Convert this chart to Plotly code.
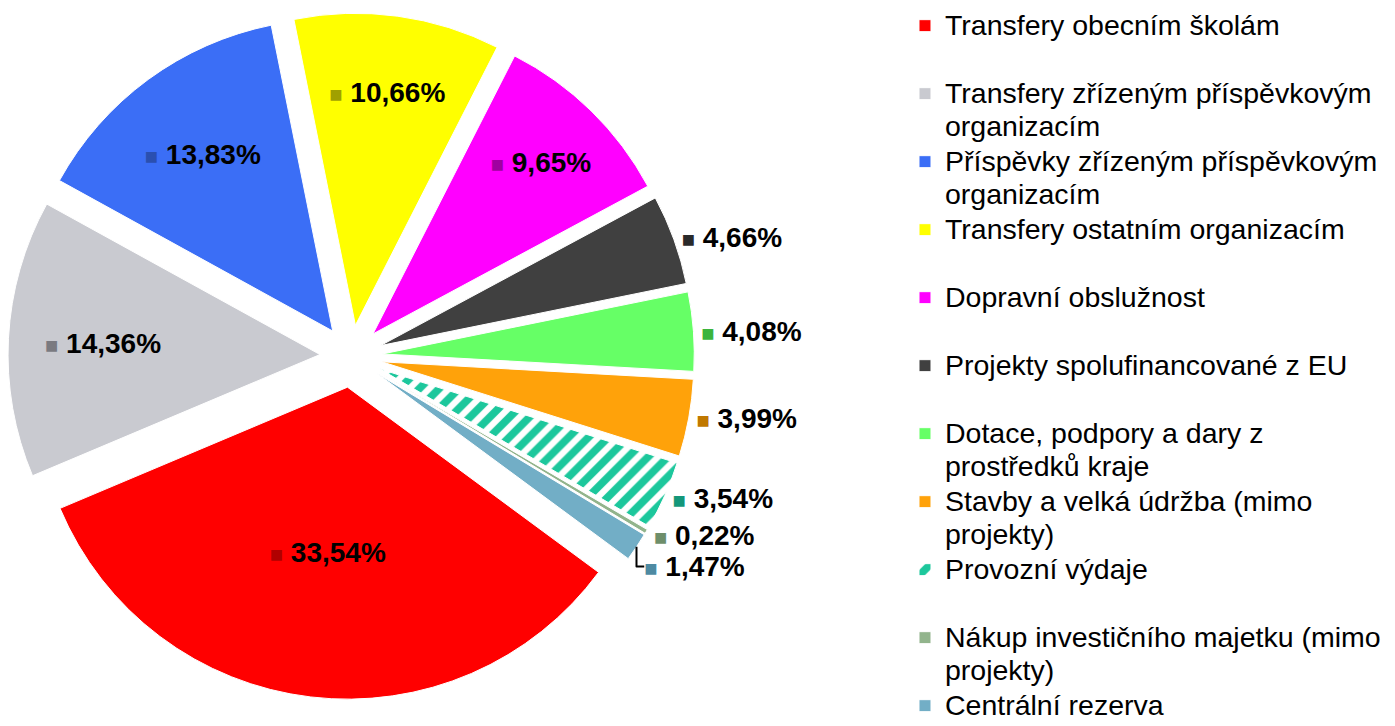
import plotly.graph_objects as go

categories = [
    "Transfery obecním školám",
    "Transfery zřízeným příspěvkovým organizacím",
    "Příspěvky zřízeným příspěvkovým organizacím",
    "Transfery ostatním organizacím",
    "Dopravní obslužnost",
    "Projekty spolufinancované z EU",
    "Dotace, podpory a dary z prostředků kraje",
    "Stavby a velká údržba (mimo projekty)",
    "Provozní výdaje",
    "Nákup investičního majetku (mimo projekty)",
    "Centrální rezerva",
]
shares = [33.54, 14.36, 13.83, 10.66, 9.65, 4.66, 4.08, 3.99, 3.54, 0.22, 1.47]

legend_lines = [
    ["Transfery obecním školám", " "],
    ["Transfery zřízeným příspěvkovým", "organizacím"],
    ["Příspěvky zřízeným příspěvkovým", "organizacím"],
    ["Transfery ostatním organizacím", " "],
    ["Dopravní obslužnost", " "],
    ["Projekty spolufinancované z EU", " "],
    ["Dotace, podpory a dary z", "prostředků kraje"],
    ["Stavby a velká údržba (mimo", "projekty)"],
    ["Provozní výdaje", " "],
    ["Nákup investičního majetku (mimo", "projekty)"],
    ["Centrální rezerva"],
]

colors = ["#FF0000", "#C9CAD0", "#3B6EF6", "#FFFF00", "#FF00FF", "#404040",
          "#66FF66", "#FFA20A", "#1CC79C", "#92B48C", "#72AEC6"]
icon_colors = ["#B00000", "#7A7A80", "#2A4FB0", "#A0A000", "#A000A0", "#2A2A2A",
               "#3CB43C", "#C07800", "#14977A", "#6E8E6A", "#4E8AA2"]
positions = ["inside"] * 5 + ["outside"] * 6

legend_names = [
    "<br>".join(f"<span style='font-size:28.5px'>{ln}</span>" for ln in lines)
    for lines in legend_lines
]

texts = [
    f"<span style='font-size:22px;color:{c}'>■</span> {v:.2f}%".replace(".", ",")
    for v, c in zip(shares, icon_colors)
]

fig = go.Figure(
    go.Pie(
        labels=legend_names,
        values=shares,
        sort=False,
        direction="clockwise",
        rotation=126.4,
        pull=[0.1] * len(shares),
        text=texts,
        textinfo="text",
        textposition=positions,
        insidetextorientation="horizontal",
        textfont=dict(family="Liberation Sans, Arial", size=28, color="black", weight="bold"),
        marker=dict(
            colors=colors,
            line=dict(color="white", width=1),
            pattern=dict(
                shape=["", "", "", "", "", "", "", "", "/", "", ""],
                fgcolor=["#1CC79C"] * len(shares),
                bgcolor=["white" if i == 8 else colors[i] for i in range(len(shares))],
                size=14,
                solidity=0.55,
                fillmode="replace",
            ),
        ),
        domain=dict(x=[0.0, 0.492], y=[0.0444, 0.9964]),
        hoverinfo="percent",
    )
)

fig.update_layout(
    width=1395,
    height=726,
    margin=dict(l=0, r=0, t=0, b=0, autoexpand=False),
    paper_bgcolor="white",
    plot_bgcolor="white",
    showlegend=True,
    legend=dict(
        x=0.643,
        y=1.007,
        xanchor="left",
        yanchor="top",
        valign="top",
        maxheight=1000,
        font=dict(family="Liberation Sans, Arial", size=25, color="black"),
        tracegroupgap=0,
        itemclick=False,
    ),
)

fig.write_html("out.html")
